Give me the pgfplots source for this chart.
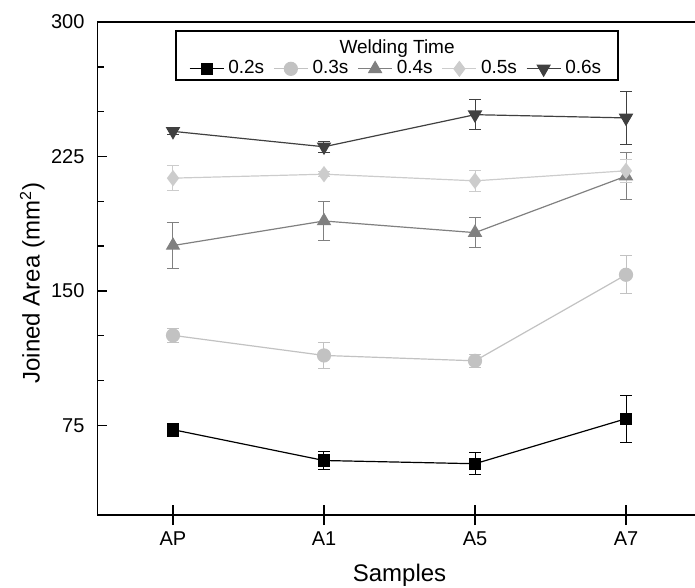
\documentclass[border=0pt]{standalone}
\usepackage{fontspec}
\setmainfont{Liberation Sans}
\usepackage{pgfplots}
\pgfplotsset{compat=1.18}
\definecolor{c02}{gray}{0}
\definecolor{c03}{gray}{0.76}
\definecolor{c04}{gray}{0.5}
\definecolor{c05}{gray}{0.8}
\definecolor{c06}{gray}{0.25}
\pgfplotsset{ebar/.style={line width=0.6pt, mark options={solid,#1},
  error bars/.cd, y dir=both, y explicit,
  error bar style={line width=0.5pt},
  error mark options={rotate=90, mark size=3pt, line width=0.5pt}},
  ebar/.default={}}

\begin{document}
\begin{tikzpicture}
\begin{axis}[
  at={(0,0)}, anchor=south west,
  scale only axis, width=302pt, height=246.5pt,
  xmin=-0.5, xmax=3.5, ymin=25, ymax=300,
  axis line style={line width=0.9pt},
  ytick={75,150,225,300}, minor y tick num=2,
  xtick=\empty,
  extra x ticks={0,1,2,3},
  extra x tick labels={AP,A1,A5,A7},
  extra x tick style={tick align=center, major tick length=10pt, xtick pos=bottom},
  tick align=inside, major tick length=5pt, minor tick length=3.5pt,
  xtick pos=bottom, ytick pos=left,
  tick style={black, line width=0.7pt},
  tick label style={font=\fontsize{10}{12}\selectfont},
  yticklabel style={xshift=-3pt},
  /pgf/number format/assume math mode=true,
  xlabel={Samples}, ylabel={Joined Area (mm\textsuperscript{2})},
  label style={font=\fontsize{12}{14}\selectfont},
  xlabel style={at={(axis description cs:0.5,-0.1217)}, anchor=center},
  ylabel style={at={(axis description cs:-0.108,0.47)}, anchor=center},
  legend style={draw=none, fill=none, at={(0.496,0.905)}, anchor=center,
    font=\fontsize{9.5}{11}\selectfont, inner sep=0pt,
    /tikz/every even column/.append style={column sep=2.5pt}},
  legend columns=5,
]
\addplot[color=c02, mark=square*, mark size=2.75pt, ebar] coordinates {
  (0,72.6) +- (0,3.7)
  (1,55.4) +- (0,5.0)
  (2,53.6) +- (0,6.2)
  (3,78.7) +- (0,13.0)
};
\addplot[color=c03, mark=*, mark size=3.25pt, ebar] coordinates {
  (0,125.2) +- (0,4.0)
  (1,114.0) +- (0,7.4)
  (2,111.0) +- (0,3.7)
  (3,159.0) +- (0,10.5)
};
\addplot[color=c04, mark=triangle*, mark size=3.6pt, ebar] coordinates {
  (0,175.3) +- (0,12.7)
  (1,189.0) +- (0,11.0)
  (2,182.5) +- (0,8.5)
  (3,214.0) +- (0,13.0)
};
\addplot[color=c05, mark=diamond*, mark size=3.6pt, ebar] coordinates {
  (0,212.9) +- (0,6.8)
  (1,215.1) +- (0,1.5)
  (2,211.4) +- (0,5.9)
  (3,217.0) +- (0,6.5)
};
\addplot[color=c06, mark=triangle*, mark size=3.6pt, ebar={rotate=180}] coordinates {
  (0,239.0) +- (0,2.0)
  (1,230.4) +- (0,3.0)
  (2,248.3) +- (0,8.4)
  (3,246.5) +- (0,15.0)
};
\legend{0.2s,0.3s,0.4s,0.5s,0.6s}
\draw[line width=0.7pt] (rel axis cs:0.130,0.882) rectangle (rel axis cs:0.862,0.982);
\node[font=\fontsize{9.5}{11}\selectfont] at (rel axis cs:0.496,0.947) {Welding Time};
\end{axis}
\pgfresetboundingbox
\path[use as bounding box] (-48.75pt,-36.5pt) rectangle (298.75pt,257.5pt);
\end{tikzpicture}
\end{document}
